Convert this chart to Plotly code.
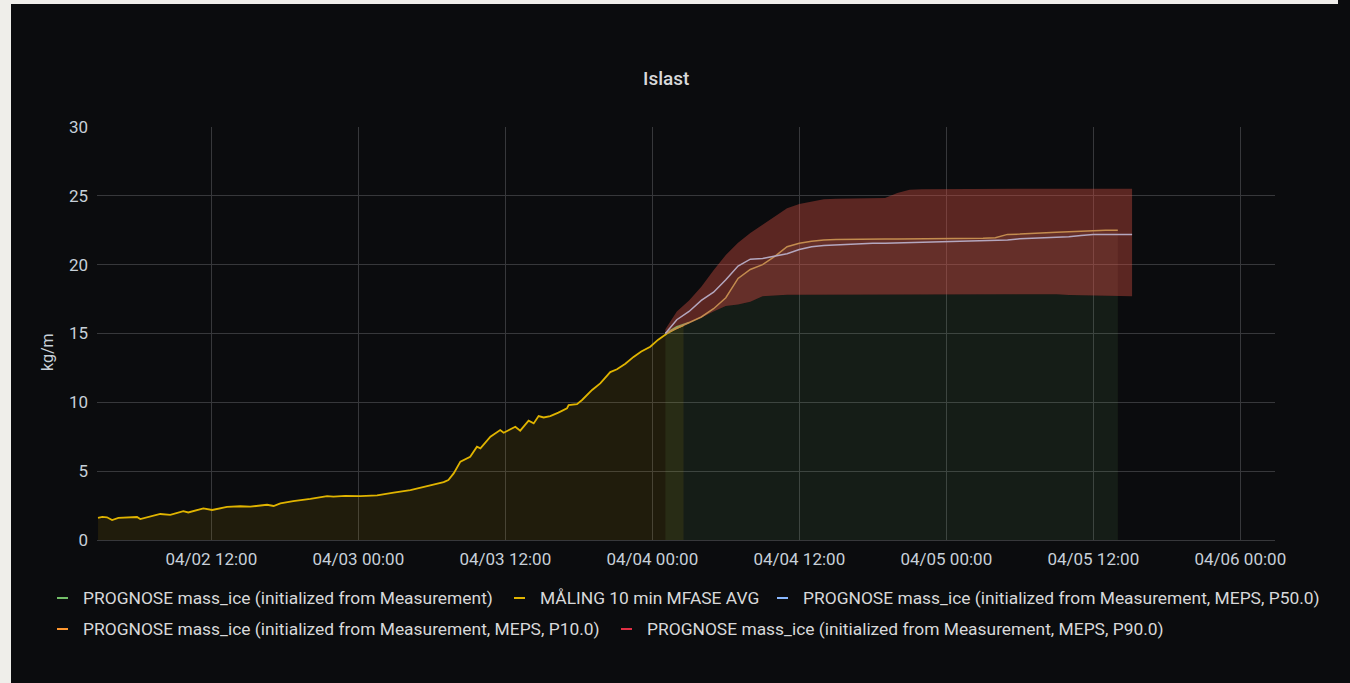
import plotly.graph_objects as go

# ---------------- data ----------------
meas_time = [
    "2023-04-02 02:45", "2023-04-02 03:06", "2023-04-02 03:29", "2023-04-02 03:54", "2023-04-02 04:25",
    "2023-04-02 04:59", "2023-04-02 05:56", "2023-04-02 06:12", "2023-04-02 07:01", "2023-04-02 07:50",
    "2023-04-02 08:39", "2023-04-02 09:43", "2023-04-02 10:07", "2023-04-02 11:21", "2023-04-02 12:04",
    "2023-04-02 13:17", "2023-04-02 14:22", "2023-04-02 15:11", "2023-04-02 16:33", "2023-04-02 17:05",
    "2023-04-02 17:38", "2023-04-02 18:41", "2023-04-02 20:05", "2023-04-02 21:27", "2023-04-02 21:58",
    "2023-04-02 22:56", "2023-04-03 00:10", "2023-04-03 01:32", "2023-04-03 02:53", "2023-04-03 04:15",
    "2023-04-03 05:37", "2023-04-03 06:58", "2023-04-03 07:21", "2023-04-03 07:47", "2023-04-03 08:20",
    "2023-04-03 08:52", "2023-04-03 09:08", "2023-04-03 09:41", "2023-04-03 09:58", "2023-04-03 10:47",
    "2023-04-03 11:35", "2023-04-03 11:52", "2023-04-03 12:49", "2023-04-03 13:13", "2023-04-03 13:54",
    "2023-04-03 14:19", "2023-04-03 14:43", "2023-04-03 15:08", "2023-04-03 15:40", "2023-04-03 16:20",
    "2023-04-03 17:02", "2023-04-03 17:10", "2023-04-03 17:51", "2023-04-03 18:16", "2023-04-03 19:05",
    "2023-04-03 19:45", "2023-04-03 20:34", "2023-04-03 21:07", "2023-04-03 21:48", "2023-04-03 22:28",
    "2023-04-03 23:06", "2023-04-03 23:50", "2023-04-04 00:29", "2023-04-04 01:12", "2023-04-04 01:53",
    "2023-04-04 02:33",
]
meas_value = [
    1.60, 1.68, 1.65, 1.45, 1.60,
    1.62, 1.67, 1.52, 1.70, 1.89,
    1.82, 2.10, 2.00, 2.30, 2.18,
    2.40, 2.45, 2.42, 2.56, 2.47,
    2.66, 2.83, 2.98, 3.19, 3.15,
    3.20, 3.19, 3.24, 3.44, 3.63,
    3.92, 4.20, 4.36, 4.84, 5.69,
    5.93, 6.05, 6.78, 6.66, 7.50,
    7.99, 7.79, 8.23, 7.94, 8.67,
    8.47, 9.00, 8.90, 9.00, 9.25,
    9.56, 9.80, 9.87, 10.17, 10.90,
    11.38, 12.20, 12.40, 12.80, 13.30,
    13.70, 14.04, 14.55, 15.00, 15.35,
    15.60,
]

fc_time = [
    "2023-04-04 01:04", "2023-04-04 02:00", "2023-04-04 03:00", "2023-04-04 04:00", "2023-04-04 05:00",
    "2023-04-04 06:00", "2023-04-04 07:00", "2023-04-04 08:00", "2023-04-04 09:00", "2023-04-04 10:00",
    "2023-04-04 11:00", "2023-04-04 12:00", "2023-04-04 13:00", "2023-04-04 14:00", "2023-04-04 15:00",
    "2023-04-04 16:00", "2023-04-04 17:00", "2023-04-04 18:00", "2023-04-04 19:00", "2023-04-04 20:00",
    "2023-04-04 21:00", "2023-04-04 22:00", "2023-04-04 23:00", "2023-04-05 00:00", "2023-04-05 01:00",
    "2023-04-05 02:00", "2023-04-05 03:00", "2023-04-05 04:00", "2023-04-05 05:00", "2023-04-05 06:00",
    "2023-04-05 07:00", "2023-04-05 08:00", "2023-04-05 09:00", "2023-04-05 10:00", "2023-04-05 11:00",
    "2023-04-05 12:00", "2023-04-05 13:00", "2023-04-05 14:00", "2023-04-05 15:10",
]
# PROGNOSE mass_ice (initialized from Measurement)
init_value = [
    15.00, 15.50, 15.80, 16.15, 16.60, 17.00, 17.10, 17.30, 17.70, 17.78,
    17.81, 17.82, 17.82, 17.83, 17.83, 17.84, 17.84, 17.85, 17.85, 17.85,
    17.87, 17.87, 17.87, 17.87, 17.87, 17.87, 17.87, 17.87, 17.87, 17.87,
    17.87, 17.87, 17.85, 17.80, 17.78, 17.75, 17.73, 17.72,
]
# band lower edge incl. last point
band_low = [
    15.00, 15.50, 15.80, 16.15, 16.60, 17.00, 17.10, 17.30, 17.70, 17.78,
    17.81, 17.82, 17.82, 17.83, 17.83, 17.84, 17.84, 17.85, 17.85, 17.85,
    17.87, 17.87, 17.87, 17.87, 17.87, 17.87, 17.87, 17.87, 17.87, 17.87,
    17.87, 17.87, 17.85, 17.80, 17.78, 17.75, 17.73, 17.72, 17.70,
]
p90_value = [
    15.30, 16.60, 17.40, 18.40, 19.60, 20.70, 21.60, 22.30, 22.90, 23.50,
    24.10, 24.40, 24.60, 24.75, 24.78, 24.80, 24.80, 24.80, 24.85, 25.20,
    25.45, 25.47, 25.48, 25.50, 25.50, 25.50, 25.51, 25.51, 25.51, 25.51,
    25.52, 25.52, 25.52, 25.52, 25.52, 25.52, 25.52, 25.52, 25.52,
]
p50_value = [
    15.00, 16.00, 16.60, 17.40, 18.00, 18.90, 19.90, 20.40, 20.45, 20.60,
    20.80, 21.10, 21.30, 21.40, 21.45, 21.50, 21.52, 21.55, 21.56, 21.58,
    21.60, 21.62, 21.64, 21.65, 21.67, 21.70, 21.72, 21.75, 21.80, 21.88,
    21.92, 21.95, 21.98, 22.02, 22.12, 22.20, 22.20, 22.20, 22.20,
]
p10_value = [
    15.00, 15.40, 15.80, 16.20, 16.80, 17.60, 19.00, 19.65, 20.00, 20.60,
    21.30, 21.55, 21.70, 21.80, 21.83, 21.85, 21.86, 21.86, 21.86, 21.87,
    21.87, 21.88, 21.88, 21.89, 21.90, 21.91, 21.92, 21.95, 22.20, 22.22,
    22.25, 22.30, 22.35, 22.40, 22.45, 22.50, 22.50, 22.50,
]

x_range = ["2023-04-02 02:40", "2023-04-06 02:50"]
y_range = [0, 30]

legend_labels = [
    "PROGNOSE mass_ice (initialized from Measurement)",
    "MÅLING 10 min MFASE AVG",
    "PROGNOSE mass_ice (initialized from Measurement, MEPS, P50.0)",
    "PROGNOSE mass_ice (initialized from Measurement, MEPS, P10.0)",
    "PROGNOSE mass_ice (initialized from Measurement, MEPS, P90.0)",
]
legend_colors = ["#73BF69", "#E0B400", "#8AB8FF", "#FF9830", "#E02F44"]

# ---------------- layout geometry ----------------
W, H = 1350, 683
PL, PR, PT, PB = 97, 1275, 127, 540


def px(x):
    return (x - PL) / (PR - PL)


def py(y):
    return (PB - y) / (PB - PT)


FONT = "Roboto, Inter, sans-serif"
TXT = "#c7d0d9"

fig = go.Figure()

# measurement (yellow) with fill
fig.add_trace(go.Scatter(
    x=meas_time, y=meas_value, mode="lines", name=legend_labels[1],
    line=dict(color="#E0B400", width=1.8), fill="tozeroy",
    fillcolor="rgba(224,180,0,0.10)", showlegend=False, hoverinfo="x+y"))

# initialized-from-measurement forecast (green) with fill
fig.add_trace(go.Scatter(
    x=fc_time[:len(init_value)], y=init_value, mode="lines", name=legend_labels[0],
    line=dict(color="rgba(0,0,0,0)", width=0), fill="tozeroy",
    fillcolor="rgba(115,191,105,0.10)", showlegend=False))
fig.add_trace(go.Scatter(
    x=fc_time[:3], y=init_value[:3], mode="lines", name=legend_labels[0],
    line=dict(color="#73BF69", width=1.5), showlegend=False))

# P90 band (red) between lower edge and P90
fig.add_trace(go.Scatter(
    x=fc_time, y=band_low, mode="lines", line=dict(width=0, color="rgba(0,0,0,0)"),
    showlegend=False, hoverinfo="skip"))
fig.add_trace(go.Scatter(
    x=fc_time, y=p90_value, mode="lines", name=legend_labels[4],
    line=dict(width=0, color="rgba(0,0,0,0)"), fill="tonexty",
    fillcolor="rgba(213,77,64,0.40)", showlegend=False))

# P10 lighter overlay (between lower edge and P10)
fig.add_trace(go.Scatter(
    x=fc_time[:len(p10_value)], y=band_low[:len(p10_value)], mode="lines",
    line=dict(width=0, color="rgba(0,0,0,0)"), showlegend=False, hoverinfo="skip"))
fig.add_trace(go.Scatter(
    x=fc_time[:len(p10_value)], y=p10_value, mode="lines", name=legend_labels[3],
    line=dict(width=1.5, color="#c38c4f"), fill="tonexty",
    fillcolor="rgba(200,125,105,0.10)", showlegend=False))

# P50 line
fig.add_trace(go.Scatter(
    x=fc_time, y=p50_value, mode="lines", name=legend_labels[2],
    line=dict(width=1.5, color="#b4a7bf"), showlegend=False))

shapes = [
    # light outer frame (left and top)
    dict(type="rect", xref="paper", yref="paper", x0=px(0), x1=px(11), y0=py(H), y1=py(0),
         fillcolor="#efeeea", line=dict(width=0), layer="below"),
    dict(type="rect", xref="paper", yref="paper", x0=px(0), x1=px(1338), y0=py(4), y1=py(0),
         fillcolor="#efeeea", line=dict(width=0), layer="below"),
]

annotations = [
    dict(text="Islast", x=px(666), y=py(79), xref="paper", yref="paper", showarrow=False,
         xanchor="center", yanchor="middle", font=dict(family=FONT, size=19, color="#d8d9da", weight=500)),
    dict(text="kg/m", x=px(47), y=py(352), xref="paper", yref="paper", showarrow=False,
         textangle=-90, xanchor="center", yanchor="middle", font=dict(family=FONT, size=16, color=TXT)),
]

legend_pos = [(81, 598), (538, 598), (801, 598), (81, 629), (645, 629)]
for (lx, ly), lab, col in zip(legend_pos, legend_labels, legend_colors):
    shapes.append(dict(type="line", xref="paper", yref="paper", x0=px(lx - 24), x1=px(lx - 13),
                       y0=py(ly), y1=py(ly), line=dict(color=col, width=2)))
    annotations.append(dict(text=lab, x=px(lx), y=py(ly), xref="paper", yref="paper", showarrow=False,
                            xanchor="left", yanchor="middle",
                            font=dict(family=FONT, size=17.4, color="#d8d9da")))

GRID = "#37383b"
fig.update_layout(
    width=W, height=H,
    margin=dict(l=PL, r=W - PR, t=PT, b=H - PB, pad=0),
    paper_bgcolor="#0b0c0e", plot_bgcolor="#0b0c0e",
    font=dict(family=FONT, size=17, color=TXT),
    showlegend=False,
    xaxis=dict(type="date", range=x_range, tickformat="%m/%d %H:%M",
               dtick=12 * 3600 * 1000, tick0="2023-04-02 12:00",
               showgrid=True, gridcolor=GRID, gridwidth=1, zeroline=False,
               showline=True, linecolor=GRID, linewidth=1, ticks="",
               ticklabelstandoff=4, tickfont=dict(family=FONT, size=17, color=TXT)),
    yaxis=dict(range=y_range, dtick=5, tick0=0, showgrid=True, gridcolor=GRID, gridwidth=1,
               zeroline=False, showline=False, ticks="", ticklabelstandoff=8,
               tickfont=dict(family=FONT, size=17, color=TXT)),
    shapes=shapes, annotations=annotations,
)

fig.write_html(
    "out.html",
    config={"displayModeBar": False},
    post_script="document.body.style.margin='0';document.body.style.overflow='hidden';"
                "document.body.style.background='#efeeea';",
)
